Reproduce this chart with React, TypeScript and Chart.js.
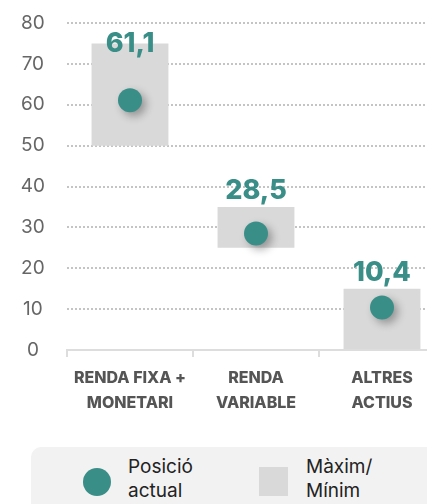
import React, { useEffect, useRef } from "react";
import { Chart, registerables } from "chart.js";

Chart.register(...registerables);

const categories: string[][] = [
  ["RENDA FIXA +", "MONETARI"],
  ["RENDA", "VARIABLE"],
  ["ALTRES", "ACTIUS"],
];
const currentValues: number[] = [61.1, 28.5, 10.4];
const minValues: number[] = [50, 25, 0];
const maxValues: number[] = [75, 35, 15];
const valueLabels: string[] = ["61,1", "28,5", "10,4"];
const legendLabels: string[][] = [
  ["Posició", "actual"],
  ["Màxim/", "Mínim"],
];

const TEAL = "#3a8e88";
const GREY = "#d9d9d9";
const FONT = "Inter";

const shadowPlugin = {
  id: "pointShadow",
  beforeDatasetDraw(chart: any, args: any) {
    if (args.index === 0) {
      const ctx = chart.ctx;
      ctx.save();
      ctx.shadowColor = "rgba(0,0,0,0.32)";
      ctx.shadowBlur = 8;
      ctx.shadowOffsetX = 4;
      ctx.shadowOffsetY = 4;
    }
  },
  afterDatasetDraw(chart: any, args: any) {
    if (args.index === 0) chart.ctx.restore();
  },
};

const valueLabelPlugin = {
  id: "valueLabels",
  afterDatasetsDraw(chart: any) {
    const ctx = chart.ctx;
    const meta = chart.getDatasetMeta(1);
    ctx.save();
    ctx.font = `800 27px ${FONT}`;
    ctx.fillStyle = TEAL;
    ctx.textAlign = "center";
    ctx.textBaseline = "alphabetic";
    meta.data.forEach((el: any, i: number) => {
      const top = Math.min(el.y, el.base);
      const y = Math.max(top - 8, chart.chartArea.top + 29);
      ctx.fillText(valueLabels[i], el.x, y);
    });
    ctx.restore();
  },
};

export default function App() {
  const ref = useRef<HTMLCanvasElement | null>(null);

  useEffect(() => {
    if (!ref.current) return;
    const chart = new Chart(ref.current, {
      type: "bar",
      data: {
        labels: categories,
        datasets: [
          {
            type: "line",
            data: currentValues,
            showLine: false,
            pointRadius: 12,
            pointHoverRadius: 12,
            pointBackgroundColor: TEAL,
            pointBorderWidth: 0,
            backgroundColor: TEAL,
            borderColor: TEAL,
          } as any,
          {
            type: "bar",
            data: minValues.map((v, i) => [v, maxValues[i]]),
            backgroundColor: GREY,
            barPercentage: 0.61,
            categoryPercentage: 1,
          } as any,
        ],
      },
      options: {
        animation: false,
        responsive: false,
        maintainAspectRatio: false,
        layout: { padding: { top: 23, right: 15, left: 0, bottom: 0 } },
        plugins: {
          legend: { display: false },
          tooltip: { enabled: false },
        },
        scales: {
          x: {
            grid: {
              display: true,
              drawOnChartArea: false,
              drawTicks: true,
              tickLength: 7,
              color: "#dddddd",
              lineWidth: 2,
            },
            border: { display: true, color: "#dddddd", width: 2 },
            ticks: {
              font: { family: FONT, size: 16, weight: 800, lineHeight: 1.56 },
              color: "#555555",
              padding: 9,
              maxRotation: 0,
              autoSkip: false,
            },
            afterFit: (s: any) => {
              s.height = 90;
              s.paddingLeft = 0;
              s.paddingRight = 0;
            },
          },
          y: {
            min: 0,
            max: 80,
            grid: {
              color: (c: any) => (c.tick && c.tick.value === 0 ? "rgba(0,0,0,0)" : "#c4c4c4"),
              lineWidth: 2,
              drawTicks: false,
            },
            border: { display: false, dash: [2, 2] },
            ticks: {
              stepSize: 10,
              font: { family: FONT, size: 19 },
              color: "#666666",
              crossAlign: "center",
              padding: 22,
            },
            afterFit: (s: any) => {
              s.width = 67;
              s.paddingTop = 0;
              s.paddingBottom = 0;
            },
          },
        },
      } as any,
      plugins: [shadowPlugin, valueLabelPlugin],
    });
    return () => chart.destroy();
  }, []);

  return (
    <div
      style={{
        position: "fixed",
        left: 0,
        top: 0,
        width: 427,
        height: 504,
        overflow: "hidden",
        background: "#fff",
        fontFamily: FONT,
      }}
    >
      <canvas
        ref={ref}
        width={460}
        height={440}
        style={{ position: "absolute", left: 0, top: 0, width: 460, height: 440 }}
      />
      <div
        style={{
          position: "absolute",
          left: 31,
          top: 447,
          width: 430,
          height: 90,
          background: "#f2f2f2",
          borderRadius: 10,
        }}
      />
      <div
        style={{
          position: "absolute",
          left: 83,
          top: 468,
          width: 28,
          height: 28,
          borderRadius: "50%",
          background: TEAL,
        }}
      />
      <div
        style={{
          position: "absolute",
          left: 128,
          top: 455,
          fontSize: 19,
          lineHeight: "24px",
          color: "#222",
        }}
      >
        {legendLabels[0][0]}
        <br />
        {legendLabels[0][1]}
      </div>
      <div
        style={{
          position: "absolute",
          left: 259,
          top: 467,
          width: 29,
          height: 29,
          background: GREY,
        }}
      />
      <div
        style={{
          position: "absolute",
          left: 306,
          top: 455,
          fontSize: 19,
          lineHeight: "24px",
          color: "#222",
        }}
      >
        {legendLabels[1][0]}
        <br />
        {legendLabels[1][1]}
      </div>
    </div>
  );
}
